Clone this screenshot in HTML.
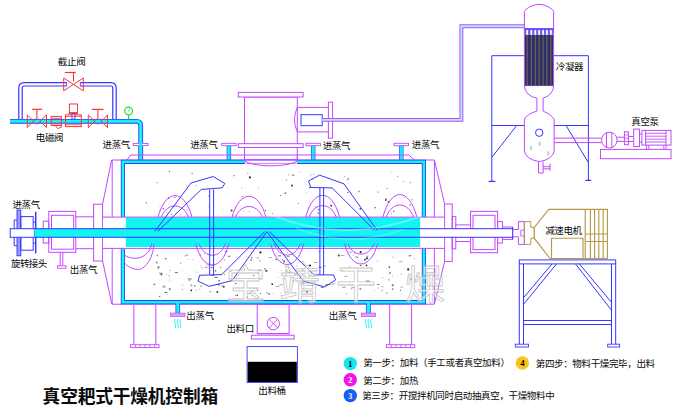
<!DOCTYPE html>
<html lang="zh">
<head>
<meta charset="utf-8">
<title>真空耙式干燥机控制箱</title>
<style>
html,body{margin:0;padding:0;background:#fff;}
body{width:676px;height:419px;overflow:hidden;font-family:"Liberation Sans",sans-serif;}
svg{display:block;}
</style>
</head>
<body>
<svg width="676" height="419" viewBox="0 0 676 419" role="img" aria-label="真空耙式干燥机控制箱"><g id="steam-supply">
<path d="M20.5 119V88Q20.5 84.3 24.2 84.3H110.8Q114.5 84.3 114.5 88V119" stroke="#3636ff" stroke-width="4.60" fill="none"/>
<path d="M20.5 119V88Q20.5 84.3 24.2 84.3H110.8Q114.5 84.3 114.5 88V119" stroke="#fff" stroke-width="2.20" fill="none"/>
<path d="M10 121.3H136.5Q140.7 121.3 140.7 125.5V161" stroke="#3636ff" stroke-width="4.80" fill="none"/>
<path d="M10 121.3H136.5Q140.7 121.3 140.7 125.5V161" stroke="#12f4f1" stroke-width="3.10" fill="none"/>
<rect x="66.5" y="81.0" width="13.9" height="6.6" stroke="none" stroke-width="0.00" fill="#fff"/>
<path d="M63.7 78.0L63.7 90.8L73.5 84.4Z" stroke="#ff3434" stroke-width="1.00" fill="none"/>
<path d="M83.3 78.0L83.3 90.8L73.5 84.4Z" stroke="#ff3434" stroke-width="1.00" fill="none"/>
<path d="M73.5 81.6L73.5 72.5" stroke="#ff3434" stroke-width="1.10" fill="none"/>
<path d="M64.7 72.5L75.8 72.5" stroke="#ff3434" stroke-width="1.20" fill="none"/>
<path d="M66.5 82.2V86.4M80.4 82.2V86.4" stroke="#3636ff" stroke-width="0.80" fill="none"/>
<path d="M27.3 114.9L27.3 127.5L33.7 121.2Z" stroke="#ff3434" stroke-width="1.00" fill="none"/>
<path d="M46.5 114.9L46.5 127.5L40.1 121.2Z" stroke="#ff3434" stroke-width="1.00" fill="none"/>
<circle cx="36.9" cy="121.2" r="2.9" stroke="#ff3434" stroke-width="0.80" fill="none" stroke-dasharray="1.6 1.4"/>
<path d="M36.9 118.4L36.9 109.3" stroke="#ff3434" stroke-width="1.10" fill="none"/>
<path d="M32.1 109.3L42.2 109.3" stroke="#ff3434" stroke-width="1.20" fill="none"/>
<path d="M88.3 115.0L88.3 127.6L94.7 121.3Z" stroke="#ff3434" stroke-width="1.00" fill="none"/>
<path d="M107.5 115.0L107.5 127.6L101.1 121.3Z" stroke="#ff3434" stroke-width="1.00" fill="none"/>
<circle cx="97.9" cy="121.3" r="2.9" stroke="#ff3434" stroke-width="0.80" fill="none" stroke-dasharray="1.6 1.4"/>
<path d="M97.9 118.5L97.9 109.4" stroke="#ff3434" stroke-width="1.10" fill="none"/>
<path d="M91.7 109.4L103.5 109.4" stroke="#ff3434" stroke-width="1.20" fill="none"/>
<rect x="51.2" y="116.4" width="10.2" height="9.1" stroke="#ff3434" stroke-width="1.00" fill="none"/>
<path d="M51.2 118.3L61.4 118.3" stroke="#ff3434" stroke-width="0.90" fill="none"/>
<path d="M51.2 123.9L61.4 123.9" stroke="#ff3434" stroke-width="0.90" fill="none"/>
<path d="M55.3 125.5L57.6 128.6L61.4 127.2L61.4 125.5" stroke="#ff3434" stroke-width="0.90" fill="none"/>
<rect x="65.5" y="114.9" width="15.8" height="11.7" stroke="#ff3434" stroke-width="1.00" fill="none"/>
<rect x="69.4" y="104.0" width="8.1" height="8.6" stroke="#ff3434" stroke-width="1.00" fill="none"/>
<path d="M68.4 113.6L78.2 113.6" stroke="#ff3434" stroke-width="1.00" fill="none"/>
<rect x="72.0" y="114.0" width="2.9" height="5.3" stroke="#3636ff" stroke-width="0.90" fill="#fff"/>
<path d="M65.5 116.4L81.3 116.4" stroke="#ff3434" stroke-width="0.80" fill="none"/>
<path d="M65.5 124.7L81.3 124.7" stroke="#ff3434" stroke-width="0.80" fill="none"/>
<path d="M128.6 115.0L128.6 119.2" stroke="#2fdc2f" stroke-width="1.20" fill="none"/>
<circle cx="128.6" cy="111.0" r="3.9" stroke="#2fdc2f" stroke-width="1.20" fill="#fff"/>
<path d="M128.6 111.6L129.8 108.6" stroke="#2fdc2f" stroke-width="0.90" fill="none"/>
<rect x="133.3" y="143.4" width="14.7" height="2.2" stroke="#c247ff" stroke-width="0.90" fill="#fff"/>
<path d="M140.7 142.5V146.5" stroke="#12f4f1" stroke-width="3.10" fill="none"/>
</g>
<g id="steam-inlets">
<path d="M228.9 145.5L228.9 161.0" stroke="#3636ff" stroke-width="4.40" fill="none"/>
<path d="M228.9 145.5L228.9 161.5" stroke="#12f4f1" stroke-width="3.20" fill="none"/>
<rect x="221.7" y="143.3" width="14.4" height="2.4" stroke="#c247ff" stroke-width="0.90" fill="#fff"/>
<path d="M313.2 145.5L313.2 161.0" stroke="#3636ff" stroke-width="4.40" fill="none"/>
<path d="M313.2 145.5L313.2 161.5" stroke="#12f4f1" stroke-width="3.20" fill="none"/>
<rect x="306.0" y="143.3" width="14.4" height="2.4" stroke="#c247ff" stroke-width="0.90" fill="#fff"/>
<path d="M401.3 145.5L401.3 161.0" stroke="#3636ff" stroke-width="4.40" fill="none"/>
<path d="M401.3 145.5L401.3 161.5" stroke="#12f4f1" stroke-width="3.20" fill="none"/>
<rect x="394.1" y="143.3" width="14.4" height="2.4" stroke="#c247ff" stroke-width="0.90" fill="#fff"/>
</g>
<g id="feeder">
<rect x="244.5" y="97.0" width="52.8" height="63.0" stroke="#c247ff" stroke-width="1.00" fill="#fff"/>
<rect x="238.3" y="92.4" width="64.8" height="4.6" stroke="#c247ff" stroke-width="1.00" fill="#fff"/>
<rect x="238.3" y="143.7" width="64.8" height="3.8" stroke="#c247ff" stroke-width="1.00" fill="#fff"/>
<path d="M297.3 107.4H328.4M297.3 131.9H328.4" stroke="#c247ff" stroke-width="1.00" fill="none"/>
<path d="M297.3 107.4Q291.6 119.6 297.3 131.9" stroke="#c247ff" stroke-width="1.00" fill="none"/>
<rect x="328.4" y="102.2" width="4.2" height="35.9" stroke="#c247ff" stroke-width="1.00" fill="#fff"/>
<rect x="301.0" y="114.7" width="21.2" height="11.0" stroke="#3636ff" stroke-width="1.00" fill="#fff"/>
<path d="M322.2 119.9H461.4V26.3H527" stroke="#c247ff" stroke-width="3.90" fill="none"/>
<path d="M322.2 119.9H461.4V26.3H527" stroke="#a4f3fa" stroke-width="1.90" fill="none"/>
</g>
<g id="vessel">
<path d="M127 160L130.5 155H409L414.3 160" stroke="#c247ff" stroke-width="1.00" fill="none"/>
<path d="M111.6 160.0L434.4 160.0" stroke="#c247ff" stroke-width="1.00" fill="none"/>
<path d="M111.8 304.2L434.4 304.2" stroke="#c247ff" stroke-width="1.00" fill="none"/>
<path d="M112.2 160V304M434.4 160V304" stroke="#c247ff" stroke-width="1.00" fill="none"/>
<path d="M111.6 160L102.6 204.2M102.6 261L111.8 304" stroke="#c247ff" stroke-width="1.00" fill="none"/>
<path d="M434.4 160L444.6 204M444.6 261.6L434.4 304" stroke="#c247ff" stroke-width="1.00" fill="none"/>
<path d="M122.9 161.8H423.9V302.2H122.9Z" stroke="#3636ff" stroke-width="4.20" fill="#fff"/>
<path d="M122.9 161.8H423.9V302.2H122.9Z" stroke="#12f4f1" stroke-width="2.60" fill="none"/>
<rect x="245.0" y="160.5" width="51.8" height="4.1" stroke="none" stroke-width="0.00" fill="#fff"/>
<path d="M244.5 155V161.2M297.3 155V161.2" stroke="#c247ff" stroke-width="1.00" fill="none"/>
<path d="M244.5 160.0L297.3 160.0" stroke="#c247ff" stroke-width="1.00" fill="none"/>
<path d="M244.5 161.2C256 167.4 286 167.4 297.3 161.2" stroke="#c247ff" stroke-width="1.00" fill="none"/>
<path d="M246.0 163.4L295.8 163.4" stroke="#c247ff" stroke-width="0.70" fill="none"/>
<rect x="93.6" y="204.2" width="9.0" height="56.8" stroke="#c247ff" stroke-width="1.00" fill="#fff"/>
<rect x="444.6" y="204.0" width="7.6" height="57.6" stroke="#c247ff" stroke-width="1.00" fill="#fff"/>
</g>
<g id="supports">
<path d="M133.9 304.5V344.7M155.8 304.5V344.7" stroke="#c247ff" stroke-width="1.00" fill="none"/>
<rect x="130.6" y="344.7" width="28.4" height="2.9" stroke="#c247ff" stroke-width="0.90" fill="#fff"/>
<path d="M135.4 344.7V347.6M140.2 344.7V347.6M145 344.7V347.6M149.8 344.7V347.6M154.6 344.7V347.6" stroke="#c247ff" stroke-width="0.80" fill="none"/>
<path d="M389.7 304.5V344.7M411.6 304.5V344.7" stroke="#c247ff" stroke-width="1.00" fill="none"/>
<rect x="386.4" y="344.7" width="28.4" height="2.9" stroke="#c247ff" stroke-width="0.90" fill="#fff"/>
<path d="M391.2 344.7V347.6M396 344.7V347.6M400.8 344.7V347.6M405.6 344.7V347.6M410.4 344.7V347.6" stroke="#c247ff" stroke-width="0.80" fill="none"/>
<path d="M177.8 303.5L177.8 313.0" stroke="#3636ff" stroke-width="4.60" fill="none"/>
<path d="M177.8 302.5L177.8 313.0" stroke="#12f4f1" stroke-width="3.10" fill="none"/>
<rect x="170.6" y="313.1" width="14.4" height="3.3" stroke="#c247ff" stroke-width="0.70" fill="#dca0ff"/>
<path d="M175.2 319q-1.2 2.3 0 4.6t0 4.6" stroke="#12f4f1" stroke-width="0.90" fill="none"/>
<path d="M177.8 319q-1.2 2.3 0 4.6t0 4.6" stroke="#12f4f1" stroke-width="0.90" fill="none"/>
<path d="M180.4 319q-1.2 2.3 0 4.6t0 4.6" stroke="#12f4f1" stroke-width="0.90" fill="none"/>
<path d="M368.5 303.5L368.5 313.0" stroke="#3636ff" stroke-width="4.60" fill="none"/>
<path d="M368.5 302.5L368.5 313.0" stroke="#12f4f1" stroke-width="3.10" fill="none"/>
<rect x="361.3" y="313.1" width="14.4" height="3.3" stroke="#c247ff" stroke-width="0.70" fill="#dca0ff"/>
<path d="M365.9 319q-1.2 2.3 0 4.6t0 4.6" stroke="#12f4f1" stroke-width="0.90" fill="none"/>
<path d="M368.5 319q-1.2 2.3 0 4.6t0 4.6" stroke="#12f4f1" stroke-width="0.90" fill="none"/>
<path d="M371.1 319q-1.2 2.3 0 4.6t0 4.6" stroke="#12f4f1" stroke-width="0.90" fill="none"/>
<rect x="257.2" y="304.5" width="31.9" height="29.1" stroke="#c247ff" stroke-width="1.00" fill="#fff"/>
<rect x="251.4" y="335.2" width="42.7" height="3.8" stroke="#c247ff" stroke-width="1.00" fill="#fff"/>
<path d="M257.2 333.6L289.1 333.6" stroke="#c247ff" stroke-width="1.00" fill="none"/>
<circle cx="273.3" cy="323.6" r="6.2" stroke="#c247ff" stroke-width="1.00" fill="none"/>
<path d="M268.9 319.2L277.7 328M277.7 319.2L268.9 328" stroke="#c247ff" stroke-width="0.90" fill="none"/>
<rect x="247.1" y="346.6" width="50.3" height="35.9" stroke="#3636ff" stroke-width="0.90" fill="#fff"/>
<rect x="247.7" y="361.8" width="49.1" height="20.2" stroke="none" stroke-width="0.00" fill="#000"/>
</g>
<g id="left-end">
<rect x="17.0" y="210.0" width="3.8" height="45.8" stroke="#3636ff" stroke-width="0.90" fill="#9a9aff"/>
<rect x="20.8" y="216.6" width="12.4" height="33.6" stroke="#3636ff" stroke-width="1.00" fill="none"/>
<path d="M35.7 211.8V253.4" stroke="#3636ff" stroke-width="1.50" fill="none"/>
<path d="M33.2 222.2H35.7M33.2 243.2H35.7" stroke="#3636ff" stroke-width="0.90" fill="none"/>
<path d="M17 220H14.2V245.7H17" stroke="#3636ff" stroke-width="1.00" fill="none"/>
<rect x="43.2" y="221.2" width="5.6" height="21.8" stroke="#c247ff" stroke-width="1.00" fill="none"/>
<rect x="48.8" y="211.4" width="27.0" height="40.9" stroke="#c247ff" stroke-width="1.00" fill="none"/>
<rect x="51.5" y="215.3" width="22.2" height="33.9" stroke="#c247ff" stroke-width="1.00" fill="none"/>
<path d="M60.2 252.3V265.8M62.8 252.3V265.8" stroke="#c247ff" stroke-width="1.00" fill="none"/>
<rect x="57.5" y="265.8" width="8.5" height="2.4" stroke="#c247ff" stroke-width="0.90" fill="#fff"/>
<path d="M75.8 216.8H93.6M75.8 248.7H93.6" stroke="#c247ff" stroke-width="1.00" fill="none"/>
</g>
<g id="right-end">
<rect x="452.2" y="216.6" width="3.6" height="32.2" stroke="#c247ff" stroke-width="1.00" fill="none"/>
<path d="M455.8 224.9H470.6M455.8 241.5H470.6" stroke="#c247ff" stroke-width="1.00" fill="none"/>
<rect x="470.6" y="211.4" width="27.0" height="41.3" stroke="#c247ff" stroke-width="1.00" fill="none"/>
<rect x="473.0" y="215.3" width="22.0" height="34.3" stroke="#c247ff" stroke-width="1.00" fill="none"/>
<rect x="497.6" y="221.6" width="4.8" height="21.4" stroke="#c247ff" stroke-width="1.00" fill="none"/>
<path d="M502.4 227H512.8V239.4H502.4" stroke="#c247ff" stroke-width="1.00" fill="none"/>
<path d="M512.8 229.5H518.4V221.6H524.3V244.4H518.4V236.8H512.8" stroke="#c247ff" stroke-width="1.00" fill="none"/>
<path d="M524.3 230.2H520.8V236H524.3" stroke="#c247ff" stroke-width="0.90" fill="none"/>
<path d="M524.3 221.6H530.8V227.4H534.3V238.2H530.8V244.4H524.3Z" stroke="#b8994a" stroke-width="1.00" fill="none"/>
</g>
<g id="gearmotor">
<path d="M548.8 209.3H607.4V258.5H549.9L534.3 238.2V227.4Z" stroke="#b8994a" stroke-width="1.15" fill="#fff"/>
<path d="M585.2 209.3V258.5M590.4 209.3V258.5M594.6 209.3V258.5M598.8 209.3V258.5M603.2 209.3V258.5" stroke="#b8994a" stroke-width="1.15" fill="none"/>
<path d="M585.2 234H607.4M585.2 241.5H607.4" stroke="#b8994a" stroke-width="1.15" fill="none"/>
<path d="M551.5 258.5V238.2H583V258.5" stroke="#b8994a" stroke-width="1.15" fill="none"/>
</g>
<g id="stand">
<rect x="519.3" y="259.9" width="96.4" height="4.0" stroke="#3636ff" stroke-width="1.00" fill="#fff"/>
<path d="M519.3 263.9V344.2M523.5 263.9V344.2M611.5 263.9V344.2M615.7 263.9V344.2" stroke="#3636ff" stroke-width="1.00" fill="none"/>
<path d="M523.5 320.5H611.5M523.5 324.5H611.5" stroke="#3636ff" stroke-width="1.00" fill="none"/>
<path d="M552 263.9L523.5 297.8M556.5 263.9L523.5 304.4" stroke="#3636ff" stroke-width="1.00" fill="none"/>
<path d="M575.5 263.9L611.4 310.1M579.4 263.9L611.4 302.3" stroke="#3636ff" stroke-width="1.00" fill="none"/>
<rect x="515.3" y="344.2" width="13.2" height="2.8" stroke="#3636ff" stroke-width="0.90" fill="#fff"/>
<rect x="607.7" y="344.2" width="11.9" height="2.8" stroke="#3636ff" stroke-width="0.90" fill="#fff"/>
</g>
<g id="chamber">
<g fill="#202020"><circle cx="260.4" cy="293.5" r="0.60" opacity="0.80"/><circle cx="276.2" cy="259.5" r="0.70" opacity="0.80"/><circle cx="311.1" cy="175.1" r="0.50" opacity="0.50"/><circle cx="411.9" cy="199.8" r="0.70" opacity="0.50"/><circle cx="309.2" cy="173.8" r="0.40" opacity="0.50"/><circle cx="382.6" cy="286.8" r="0.50" opacity="0.80"/><circle cx="300.0" cy="261.7" r="0.50" opacity="0.80"/><circle cx="288.7" cy="174.7" r="0.50" opacity="0.65"/><circle cx="347.8" cy="252.4" r="0.70" opacity="0.35"/><circle cx="245.5" cy="188.0" r="0.40" opacity="0.35"/><circle cx="192.1" cy="173.3" r="0.60" opacity="0.80"/><circle cx="251.1" cy="260.1" r="0.85" opacity="0.65"/><circle cx="227.4" cy="251.7" r="0.60" opacity="0.35"/><circle cx="169.5" cy="171.5" r="0.60" opacity="0.80"/><circle cx="181.8" cy="271.6" r="0.45" opacity="0.50"/><circle cx="250.9" cy="269.2" r="0.45" opacity="0.35"/><circle cx="208.2" cy="206.4" r="0.50" opacity="0.35"/><circle cx="191.3" cy="290.3" r="0.85" opacity="1.00"/><circle cx="352.0" cy="264.6" r="0.40" opacity="0.35"/><circle cx="156.8" cy="262.2" r="0.70" opacity="0.65"/><circle cx="237.3" cy="295.1" r="0.60" opacity="1.00"/><circle cx="169.8" cy="279.9" r="0.50" opacity="0.50"/><circle cx="364.9" cy="259.7" r="0.85" opacity="1.00"/><circle cx="187.2" cy="209.8" r="0.70" opacity="0.35"/><circle cx="251.5" cy="252.8" r="0.50" opacity="0.50"/><circle cx="342.6" cy="270.4" r="0.70" opacity="0.80"/><circle cx="214.9" cy="284.1" r="0.40" opacity="0.50"/><circle cx="196.3" cy="290.2" r="0.70" opacity="0.35"/><circle cx="211.1" cy="180.0" r="0.40" opacity="0.35"/><circle cx="208.0" cy="253.8" r="0.45" opacity="0.65"/><circle cx="236.5" cy="257.1" r="0.50" opacity="0.50"/><circle cx="385.8" cy="199.9" r="0.85" opacity="1.00"/><circle cx="298.1" cy="252.6" r="0.40" opacity="0.80"/><circle cx="391.3" cy="213.4" r="0.40" opacity="1.00"/><circle cx="312.9" cy="284.6" r="0.50" opacity="0.50"/><circle cx="416.8" cy="276.1" r="0.85" opacity="0.35"/><circle cx="388.5" cy="202.0" r="1.05" opacity="0.65"/><circle cx="231.6" cy="210.6" r="1.05" opacity="0.80"/><circle cx="401.1" cy="274.0" r="0.40" opacity="1.00"/><circle cx="320.4" cy="251.6" r="0.40" opacity="0.35"/><circle cx="156.9" cy="262.8" r="0.60" opacity="0.65"/><circle cx="242.1" cy="196.6" r="0.60" opacity="0.80"/><circle cx="370.8" cy="285.5" r="0.40" opacity="0.65"/><circle cx="303.0" cy="261.6" r="0.85" opacity="0.35"/><circle cx="273.2" cy="293.3" r="0.50" opacity="0.35"/><circle cx="236.2" cy="279.1" r="0.70" opacity="0.50"/><circle cx="346.6" cy="293.8" r="0.60" opacity="0.50"/><circle cx="224.5" cy="260.1" r="0.60" opacity="0.50"/><circle cx="382.8" cy="277.8" r="0.50" opacity="0.50"/><circle cx="169.9" cy="289.5" r="1.05" opacity="0.35"/><circle cx="334.4" cy="183.2" r="0.45" opacity="0.35"/><circle cx="259.9" cy="260.8" r="0.60" opacity="0.80"/><circle cx="310.0" cy="265.5" r="1.05" opacity="1.00"/><circle cx="260.4" cy="252.4" r="1.05" opacity="1.00"/><circle cx="357.4" cy="257.3" r="0.60" opacity="0.50"/><circle cx="318.3" cy="213.2" r="0.85" opacity="0.50"/><circle cx="188.0" cy="259.2" r="0.40" opacity="0.80"/><circle cx="284.0" cy="261.4" r="1.05" opacity="0.65"/><circle cx="285.4" cy="193.0" r="1.05" opacity="0.50"/><circle cx="243.5" cy="210.9" r="0.40" opacity="0.80"/><circle cx="397.7" cy="176.7" r="0.60" opacity="0.50"/><circle cx="309.9" cy="187.6" r="0.70" opacity="1.00"/><circle cx="358.9" cy="191.4" r="0.85" opacity="0.50"/><circle cx="159.3" cy="206.1" r="0.40" opacity="0.50"/><circle cx="200.3" cy="255.0" r="0.50" opacity="1.00"/><circle cx="410.4" cy="182.5" r="0.85" opacity="0.35"/><circle cx="230.7" cy="271.3" r="0.70" opacity="0.80"/><circle cx="350.7" cy="252.3" r="1.05" opacity="0.35"/><circle cx="253.7" cy="275.5" r="0.85" opacity="0.50"/><circle cx="265.6" cy="210.6" r="0.70" opacity="0.80"/><circle cx="401.5" cy="294.7" r="0.40" opacity="0.50"/><circle cx="256.7" cy="289.2" r="0.70" opacity="0.50"/><circle cx="280.5" cy="195.6" r="0.50" opacity="0.80"/><circle cx="404.1" cy="197.8" r="0.50" opacity="0.50"/><circle cx="408.0" cy="277.4" r="0.45" opacity="0.80"/><circle cx="284.3" cy="278.8" r="0.40" opacity="1.00"/><circle cx="408.2" cy="269.4" r="1.05" opacity="1.00"/><circle cx="165.9" cy="258.7" r="0.70" opacity="0.80"/><circle cx="249.3" cy="211.6" r="0.50" opacity="0.50"/><circle cx="266.3" cy="270.9" r="1.05" opacity="0.80"/><circle cx="281.1" cy="270.3" r="0.40" opacity="0.65"/><circle cx="168.0" cy="172.0" r="0.45" opacity="0.50"/><circle cx="196.0" cy="185.2" r="0.50" opacity="0.50"/><circle cx="308.3" cy="284.6" r="0.40" opacity="1.00"/><circle cx="309.3" cy="201.9" r="0.60" opacity="0.35"/><circle cx="238.5" cy="275.3" r="0.45" opacity="1.00"/><circle cx="189.4" cy="280.4" r="0.70" opacity="0.50"/><circle cx="374.5" cy="290.4" r="0.45" opacity="0.65"/><circle cx="389.2" cy="265.5" r="0.45" opacity="0.50"/><circle cx="353.6" cy="255.5" r="0.45" opacity="0.50"/><circle cx="338.8" cy="255.5" r="1.05" opacity="0.80"/><circle cx="286.4" cy="179.8" r="0.85" opacity="0.35"/><circle cx="158.5" cy="267.4" r="1.05" opacity="0.65"/><circle cx="164.0" cy="285.9" r="0.70" opacity="0.50"/><circle cx="360.6" cy="252.1" r="1.05" opacity="1.00"/><circle cx="306.4" cy="192.2" r="0.45" opacity="0.50"/><circle cx="163.9" cy="258.3" r="0.50" opacity="0.35"/><circle cx="296.8" cy="282.3" r="0.40" opacity="0.35"/><circle cx="224.5" cy="274.7" r="0.60" opacity="0.50"/><circle cx="302.9" cy="283.2" r="1.05" opacity="0.50"/><circle cx="182.8" cy="285.0" r="0.60" opacity="0.50"/><circle cx="304.0" cy="287.4" r="0.50" opacity="0.35"/><circle cx="360.3" cy="208.9" r="0.85" opacity="0.80"/><circle cx="293.9" cy="277.9" r="0.50" opacity="0.65"/><circle cx="210.9" cy="285.2" r="0.45" opacity="0.80"/><circle cx="169.1" cy="275.8" r="0.50" opacity="0.80"/><circle cx="349.9" cy="284.2" r="0.40" opacity="0.65"/><circle cx="217.3" cy="291.9" r="0.85" opacity="1.00"/><circle cx="192.8" cy="259.4" r="0.40" opacity="0.80"/><circle cx="278.2" cy="260.8" r="0.40" opacity="0.80"/><circle cx="411.3" cy="279.3" r="0.85" opacity="0.50"/><circle cx="204.4" cy="253.3" r="0.45" opacity="0.80"/><circle cx="285.6" cy="275.0" r="1.05" opacity="0.35"/><circle cx="313.5" cy="174.4" r="0.70" opacity="0.35"/><circle cx="241.5" cy="188.0" r="0.45" opacity="0.80"/><circle cx="286.0" cy="270.8" r="0.60" opacity="0.80"/><circle cx="212.3" cy="265.4" r="0.70" opacity="0.65"/><circle cx="269.2" cy="293.8" r="0.85" opacity="0.65"/><circle cx="247.9" cy="173.3" r="0.50" opacity="0.80"/><circle cx="390.0" cy="273.0" r="1.05" opacity="0.50"/><circle cx="144.0" cy="288.3" r="0.45" opacity="0.50"/><circle cx="303.6" cy="279.7" r="0.60" opacity="0.35"/><circle cx="189.2" cy="275.3" r="0.40" opacity="0.65"/><circle cx="257.7" cy="272.0" r="0.50" opacity="1.00"/><circle cx="326.1" cy="285.2" r="1.05" opacity="0.50"/><circle cx="403.5" cy="181.5" r="0.40" opacity="1.00"/><circle cx="386.3" cy="198.5" r="0.50" opacity="0.65"/><circle cx="208.7" cy="195.9" r="0.70" opacity="0.50"/><circle cx="312.1" cy="179.4" r="0.45" opacity="1.00"/><circle cx="411.2" cy="209.7" r="0.40" opacity="0.35"/><circle cx="194.7" cy="285.8" r="0.85" opacity="0.50"/><circle cx="288.5" cy="268.2" r="0.60" opacity="0.65"/><circle cx="191.2" cy="285.3" r="1.05" opacity="0.35"/><circle cx="360.4" cy="288.8" r="1.05" opacity="0.50"/><circle cx="258.1" cy="188.2" r="0.45" opacity="0.65"/><circle cx="174.9" cy="197.3" r="0.50" opacity="1.00"/><circle cx="348.1" cy="179.1" r="0.85" opacity="0.65"/><circle cx="297.0" cy="265.9" r="0.70" opacity="0.35"/><circle cx="254.5" cy="288.5" r="0.60" opacity="0.65"/><circle cx="366.5" cy="265.3" r="0.85" opacity="1.00"/><circle cx="154.4" cy="284.3" r="0.85" opacity="0.65"/><circle cx="211.9" cy="267.5" r="0.85" opacity="0.65"/><circle cx="235.8" cy="283.6" r="0.70" opacity="1.00"/><circle cx="393.7" cy="211.2" r="0.60" opacity="1.00"/><circle cx="360.7" cy="265.6" r="0.60" opacity="1.00"/><circle cx="202.0" cy="267.8" r="0.50" opacity="0.80"/><circle cx="298.3" cy="203.5" r="0.50" opacity="0.80"/><circle cx="285.6" cy="195.8" r="0.45" opacity="0.35"/><circle cx="348.1" cy="183.4" r="0.40" opacity="0.50"/><circle cx="278.5" cy="277.1" r="0.40" opacity="0.80"/><circle cx="312.4" cy="285.3" r="0.85" opacity="0.80"/><circle cx="201.2" cy="286.2" r="0.70" opacity="0.65"/><circle cx="349.7" cy="266.5" r="0.50" opacity="0.50"/><circle cx="272.2" cy="284.2" r="0.85" opacity="1.00"/><circle cx="392.7" cy="289.0" r="0.85" opacity="0.65"/><circle cx="375.1" cy="207.7" r="0.60" opacity="1.00"/><circle cx="314.1" cy="283.7" r="1.05" opacity="0.35"/><circle cx="251.6" cy="257.7" r="0.85" opacity="0.50"/><circle cx="414.4" cy="258.7" r="0.45" opacity="0.80"/><circle cx="252.5" cy="295.6" r="0.40" opacity="0.80"/><circle cx="219.2" cy="280.8" r="1.05" opacity="0.50"/><circle cx="391.9" cy="171.8" r="0.60" opacity="0.35"/><circle cx="220.4" cy="267.5" r="0.70" opacity="0.50"/><circle cx="302.6" cy="274.4" r="0.60" opacity="0.50"/><circle cx="386.8" cy="292.9" r="0.50" opacity="1.00"/><circle cx="400.4" cy="290.3" r="0.60" opacity="0.80"/><circle cx="392.5" cy="276.2" r="0.40" opacity="0.80"/><circle cx="377.7" cy="261.0" r="0.45" opacity="0.80"/><circle cx="410.1" cy="205.1" r="1.05" opacity="0.35"/><circle cx="319.1" cy="251.5" r="0.60" opacity="0.65"/><circle cx="259.7" cy="270.4" r="1.05" opacity="0.50"/><circle cx="249.9" cy="177.4" r="1.05" opacity="1.00"/><circle cx="168.5" cy="198.3" r="0.70" opacity="1.00"/><circle cx="393.0" cy="256.9" r="0.50" opacity="0.65"/><circle cx="306.9" cy="291.9" r="0.85" opacity="0.80"/><circle cx="354.5" cy="252.7" r="0.60" opacity="1.00"/><circle cx="272.3" cy="213.4" r="0.50" opacity="0.65"/><circle cx="247.0" cy="296.9" r="0.85" opacity="0.35"/><circle cx="233.9" cy="175.7" r="0.60" opacity="0.80"/><circle cx="344.5" cy="176.4" r="0.60" opacity="0.35"/><circle cx="378.0" cy="191.9" r="0.50" opacity="1.00"/><circle cx="163.4" cy="208.7" r="0.85" opacity="0.50"/><circle cx="388.8" cy="279.9" r="0.70" opacity="0.65"/><circle cx="403.9" cy="195.4" r="0.40" opacity="0.65"/><circle cx="185.0" cy="256.0" r="0.50" opacity="0.65"/><circle cx="292.0" cy="185.6" r="1.05" opacity="0.80"/><circle cx="157.4" cy="255.3" r="0.85" opacity="0.50"/><circle cx="182.4" cy="289.5" r="0.70" opacity="0.35"/><circle cx="159.7" cy="296.4" r="0.60" opacity="0.80"/><circle cx="351.6" cy="288.9" r="0.70" opacity="0.50"/><circle cx="316.1" cy="207.1" r="0.60" opacity="0.80"/><circle cx="225.8" cy="251.7" r="0.60" opacity="1.00"/><circle cx="331.2" cy="205.7" r="0.85" opacity="1.00"/><circle cx="282.5" cy="259.7" r="0.50" opacity="0.80"/><circle cx="161.4" cy="274.4" r="1.05" opacity="0.65"/><circle cx="367.0" cy="258.3" r="1.05" opacity="1.00"/><circle cx="389.3" cy="267.2" r="0.70" opacity="1.00"/><circle cx="171.5" cy="214.4" r="0.70" opacity="0.50"/><circle cx="293.3" cy="281.3" r="1.05" opacity="0.35"/><circle cx="170.0" cy="270.2" r="0.50" opacity="0.65"/><circle cx="157.2" cy="182.7" r="0.60" opacity="0.50"/><circle cx="199.2" cy="276.1" r="0.40" opacity="1.00"/><circle cx="392.7" cy="285.3" r="1.05" opacity="0.65"/><circle cx="303.0" cy="288.9" r="0.50" opacity="0.65"/><circle cx="199.9" cy="289.2" r="0.45" opacity="1.00"/><circle cx="287.7" cy="252.5" r="0.45" opacity="0.50"/><circle cx="219.0" cy="284.9" r="0.60" opacity="1.00"/><circle cx="300.3" cy="171.7" r="0.45" opacity="0.80"/><circle cx="264.9" cy="268.8" r="0.70" opacity="0.80"/><circle cx="180.7" cy="263.1" r="0.70" opacity="0.65"/><circle cx="146.3" cy="202.8" r="0.60" opacity="0.80"/><circle cx="302.6" cy="269.9" r="0.70" opacity="1.00"/><circle cx="347.8" cy="192.4" r="0.60" opacity="0.80"/><circle cx="367.0" cy="256.3" r="0.70" opacity="0.65"/><circle cx="281.2" cy="292.6" r="0.50" opacity="0.35"/><circle cx="215.7" cy="270.9" r="0.60" opacity="1.00"/><circle cx="223.1" cy="209.8" r="0.40" opacity="0.50"/><circle cx="166.6" cy="274.1" r="0.60" opacity="0.35"/><circle cx="267.1" cy="292.9" r="0.70" opacity="0.65"/><circle cx="318.9" cy="209.7" r="0.85" opacity="0.65"/><circle cx="378.8" cy="288.0" r="0.45" opacity="0.80"/><circle cx="293.1" cy="175.3" r="1.05" opacity="0.50"/><circle cx="166.4" cy="294.7" r="0.40" opacity="0.65"/><circle cx="200.8" cy="265.9" r="0.40" opacity="0.80"/><circle cx="387.0" cy="188.5" r="0.50" opacity="1.00"/><circle cx="197.0" cy="271.9" r="0.50" opacity="0.65"/><circle cx="223.8" cy="286.7" r="1.05" opacity="0.80"/><circle cx="382.3" cy="290.5" r="0.85" opacity="0.35"/><circle cx="186.9" cy="186.6" r="0.60" opacity="0.35"/><circle cx="180.2" cy="214.8" r="0.45" opacity="1.00"/><rect x="313.8" y="262.0" width="3.6" height="0.8" opacity="0.45"/><rect x="318.6" y="266.9" width="3.4" height="0.8" opacity="0.60"/><rect x="377.2" y="284.0" width="2.1" height="0.8" opacity="0.80"/><rect x="400.5" y="286.7" width="2.6" height="0.8" opacity="0.45"/><rect x="204.6" y="266.9" width="3.2" height="0.8" opacity="0.45"/><rect x="216.8" y="284.2" width="2.8" height="0.8" opacity="0.60"/><rect x="356.1" y="269.6" width="3.1" height="0.8" opacity="0.45"/><rect x="302.5" y="263.6" width="2.4" height="0.8" opacity="0.45"/><rect x="323.1" y="265.6" width="3.1" height="0.8" opacity="0.45"/><rect x="268.5" y="257.2" width="3.6" height="0.8" opacity="0.45"/><rect x="286.7" y="255.9" width="3.0" height="0.8" opacity="0.60"/><rect x="288.4" y="271.8" width="2.9" height="0.8" opacity="0.45"/><rect x="221.1" y="285.7" width="2.3" height="0.8" opacity="0.60"/><rect x="341.0" y="255.2" width="3.4" height="0.8" opacity="0.45"/><rect x="408.7" y="255.4" width="2.7" height="0.8" opacity="0.80"/><rect x="247.7" y="293.0" width="2.8" height="0.8" opacity="0.45"/><rect x="162.1" y="286.6" width="3.6" height="0.8" opacity="0.60"/><rect x="320.8" y="286.9" width="2.8" height="0.8" opacity="0.80"/><rect x="365.8" y="280.7" width="3.8" height="0.8" opacity="0.80"/><rect x="399.1" y="261.3" width="3.4" height="0.8" opacity="0.45"/><rect x="174.9" y="272.3" width="3.1" height="0.8" opacity="0.80"/><rect x="351.4" y="287.0" width="3.4" height="0.8" opacity="0.45"/><rect x="214.3" y="276.9" width="3.5" height="0.8" opacity="0.80"/><rect x="278.2" y="255.5" width="3.0" height="0.8" opacity="0.80"/><rect x="159.0" y="272.8" width="3.6" height="0.8" opacity="0.60"/><rect x="185.5" y="254.7" width="2.8" height="0.8" opacity="0.60"/><rect x="279.5" y="284.4" width="3.5" height="0.8" opacity="0.45"/><rect x="164.4" y="292.1" width="2.9" height="0.8" opacity="0.80"/><rect x="299.7" y="284.3" width="3.0" height="0.8" opacity="0.45"/><rect x="228.0" y="255.8" width="2.4" height="0.8" opacity="0.80"/><rect x="342.2" y="286.8" width="3.3" height="0.8" opacity="0.60"/><rect x="168.6" y="288.5" width="2.1" height="0.8" opacity="0.60"/><rect x="211.3" y="274.9" width="3.1" height="0.8" opacity="0.80"/><rect x="355.1" y="256.6" width="2.6" height="0.8" opacity="0.60"/><rect x="331.5" y="283.6" width="3.7" height="0.8" opacity="0.45"/><rect x="275.7" y="286.0" width="3.8" height="0.8" opacity="0.45"/><rect x="343.8" y="275.9" width="3.8" height="0.8" opacity="0.45"/><rect x="209.2" y="291.4" width="2.1" height="0.8" opacity="0.60"/><rect x="293.5" y="273.8" width="3.7" height="0.8" opacity="0.45"/><rect x="326.5" y="284.1" width="3.8" height="0.8" opacity="0.80"/><rect x="206.4" y="264.6" width="2.9" height="0.8" opacity="0.45"/><rect x="256.7" y="257.6" width="2.3" height="0.8" opacity="0.60"/><rect x="235.0" y="295.2" width="3.0" height="0.8" opacity="0.45"/><rect x="187.8" y="278.6" width="3.8" height="0.8" opacity="0.80"/></g>
<path d="M158.0 217.3C165.5 188.4 184.5 188.4 192.0 217.3" stroke="#c247ff" stroke-width="1.00" fill="none"/>
<path d="M161.2 217.3C167.5 202.1 182.5 202.1 188.8 217.3" stroke="#c247ff" stroke-width="1.00" fill="none"/>
<path d="M232.0 217.3C239.5 189.2 258.5 189.2 266.0 217.3" stroke="#c247ff" stroke-width="1.00" fill="none"/>
<path d="M235.2 217.3C241.5 202.9 256.5 202.9 262.8 217.3" stroke="#c247ff" stroke-width="1.00" fill="none"/>
<path d="M305.6 217.3C313.1 188.0 332.1 188.0 339.6 217.3" stroke="#c247ff" stroke-width="1.00" fill="none"/>
<path d="M308.8 217.3C315.1 201.7 330.1 201.7 336.4 217.3" stroke="#c247ff" stroke-width="1.00" fill="none"/>
<path d="M382.9 217.3C390.4 187.0 409.4 187.0 416.9 217.3" stroke="#c247ff" stroke-width="1.00" fill="none"/>
<path d="M386.1 217.3C392.4 200.8 407.4 200.8 413.7 217.3" stroke="#c247ff" stroke-width="1.00" fill="none"/>
<rect x="103.2" y="217.1" width="22.6" height="31.3" stroke="none" stroke-width="0.00" fill="#fff"/>
<rect x="420.2" y="217.1" width="23.9" height="31.3" stroke="none" stroke-width="0.00" fill="#fff"/>
<rect x="125.8" y="217.4" width="294.4" height="29.6" stroke="none" stroke-width="0.00" fill="#12f4f1"/>
<rect x="10.2" y="228.7" width="24.2" height="8.6" stroke="#3636ff" stroke-width="1.00" fill="#fff"/>
<rect x="34.4" y="228.7" width="91.4" height="8.6" stroke="none" stroke-width="0.00" fill="#12f4f1"/>
<rect x="420.2" y="228.7" width="92.4" height="8.6" stroke="none" stroke-width="0.00" fill="#fff"/>
<path d="M34.4 228.7H512.6M34.4 237.3H512.6" stroke="#3636ff" stroke-width="1.00" fill="none"/>
<path d="M512.6 227.0L512.6 239.4" stroke="#3636ff" stroke-width="0.90" fill="none"/>
<clipPath id="chclip"><rect x="125" y="164" width="297" height="136"/></clipPath>
<g clip-path="url(#chclip)">
<path d="M154.2 243.6C152.5 261 144 269.4 138.2 269.4C133 269.4 128 267 124 262.6" stroke="#c247ff" stroke-width="1.00" fill="none"/>
<path d="M151.7 243.6C150 253.5 142 258.3 135.5 258.3C131 258.3 127.5 257.2 124 255" stroke="#c247ff" stroke-width="1.00" fill="none"/>
<path d="M195.7 243.6C202.8 272.1 221.8 272.1 228.9 243.6" stroke="#c247ff" stroke-width="1.00" fill="none"/>
<path d="M199.1 243.6C204.8 259.2 219.8 259.2 225.5 243.6" stroke="#c247ff" stroke-width="1.00" fill="none"/>
<path d="M270.6 243.6C277.7 271.5 296.7 271.5 303.8 243.6" stroke="#c247ff" stroke-width="1.00" fill="none"/>
<path d="M274.0 243.6C279.7 258.9 294.7 258.9 300.4 243.6" stroke="#c247ff" stroke-width="1.00" fill="none"/>
<path d="M344.4 243.6C351.5 270.8 370.5 270.8 377.6 243.6" stroke="#c247ff" stroke-width="1.00" fill="none"/>
<path d="M347.8 243.6C353.5 257.7 368.5 257.7 374.2 243.6" stroke="#c247ff" stroke-width="1.00" fill="none"/>
</g>
<path d="M102.6 217.1H444.6M102.6 248.4H444.6" stroke="#c247ff" stroke-width="1.00" fill="none"/>
<path d="M209.7 189.5V275M213.6 189.5V275" stroke="#3636ff" stroke-width="1.00" fill="none"/>
<path d="M319.9 188V275M323.6 188V275" stroke="#3636ff" stroke-width="1.00" fill="none"/>
<path d="M155.0 231.3L191.0 183.0L213.2 176.5L224.8 183.5L222.1 187.9L201.4 189.4L157.8 231.3" stroke="#3636ff" stroke-width="1.00" fill="none"/>
<path d="M377.0 230.2L344.0 183.9L319.6 175.1L308.5 181.0L310.7 187.5L332.2 187.9L374.5 230.2" stroke="#3636ff" stroke-width="1.00" fill="none"/>
<path d="M266.9 231.7L232.2 280.5L209.2 286.4L198.1 281.2L199.6 275.3L221.8 274.6L264.6 231.7" stroke="#3636ff" stroke-width="1.00" fill="none"/>
<path d="M266.9 231.7L303.2 281.1L324.6 286.9L335.6 280.0L333.5 274.9L314.2 274.9L269.4 231.7" stroke="#3636ff" stroke-width="1.00" fill="none"/>
<path d="M272 215Q345 245 421 216" stroke="#fff" stroke-width="2.00" fill="none" opacity="0.3"/>
<path d="M296 228Q350 250 404 229" stroke="#fff" stroke-width="1.50" fill="none" opacity="0.22"/>
</g>
<g id="watermark" opacity="0.8" fill="#fff" fill-opacity="0.7" stroke="#b8b8b8" stroke-width="0.8" font-family="'Liberation Sans','Noto Sans CJK SC',sans-serif" font-size="40"><title>宝靖干燥</title>
<text x="225.5 279.5 336 405" y="299">宝靖干燥</text>
</g>
<g id="cond-frame">
<path d="M491.8 181.2V55.7H524.4M553.6 55.7H588.4V180.4" stroke="#3636ff" stroke-width="1.00" fill="none"/>
<path d="M491.8 125.5H524.4M554 125.5H588.4" stroke="#3636ff" stroke-width="1.00" fill="none"/>
<path d="M516.7 125.5L491.8 157.4M566 125.5L588.4 162.6" stroke="#3636ff" stroke-width="1.00" fill="none"/>
<path d="M488.7 181.3H495.3M585.3 180.4H591.2" stroke="#3636ff" stroke-width="1.20" fill="none"/>
</g>
<g id="condenser">
<path d="M524.4 28.7V11.5Q524.6 9.6 531 6.2Q539 2.6 547 6.2Q553.4 9.6 553.6 11.5V28.7" stroke="#c247ff" stroke-width="1.00" fill="#fff"/>
<rect x="524.4" y="28.7" width="29.2" height="56.9" stroke="#c247ff" stroke-width="1.00" fill="#fff"/>
<rect x="524.9" y="34.8" width="28.2" height="50.8" stroke="none" stroke-width="0.00" fill="#2e2e62"/>
<rect x="524.9" y="29.4" width="28.2" height="5.4" stroke="none" stroke-width="0.00" fill="#6464ea"/>
<path d="M524.4 29.1L553.6 29.1" stroke="#3636ff" stroke-width="1.20" fill="none"/>
<path d="M527.2 34.8V85.6M531.3 34.8V85.6M535.3 34.8V85.6M539.1 34.8V85.6M543.1 34.8V85.6M546.9 34.8V85.6M550.9 34.8V85.6" stroke="#77755f" stroke-width="0.90" fill="none"/>
<path d="M527.2 30V34.8M531.3 30V34.8M535.3 30V34.8M539.1 30V34.8M543.1 30V34.8M546.9 30V34.8M550.9 30V34.8" stroke="#fff" stroke-width="1.70" fill="none"/>
<path d="M524.4 85.6A14.6 12.7 0 0 0 536.9 98.1V111.1M553.6 85.6A14.6 12.7 0 0 1 543.1 98.1V111.1" stroke="#c247ff" stroke-width="1.00" fill="none"/>
<path d="M536.9 111.1Q528 113.5 524.4 119V151.2Q526 159.5 539.2 161.6Q552.5 159.5 554.1 151.2V119Q550.5 113.5 543.1 111.1" stroke="#c247ff" stroke-width="1.00" fill="#fff"/>
<circle cx="539.2" cy="132.7" r="3.7" stroke="#3636ff" stroke-width="1.00" fill="none"/>
<path d="M539.6 141.5q-1.7 3.2 0 4.2q1.7-1 0-4.2z" stroke="#b8b8c0" stroke-width="0.60" fill="#d6d6dc"/>
<path d="M531.0 146.0q-1.7 3.2 0 4.2q1.7-1 0-4.2z" stroke="#b8b8c0" stroke-width="0.60" fill="#d6d6dc"/>
<path d="M548.3 151.0q-1.7 3.2 0 4.2q1.7-1 0-4.2z" stroke="#b8b8c0" stroke-width="0.60" fill="#d6d6dc"/>
<path d="M538.5 161.6V173H543.1V161.6" stroke="#c247ff" stroke-width="1.00" fill="none"/>
<path d="M543.1 166.7H550M543.1 168.8H550M550 163.6V170.9" stroke="#c247ff" stroke-width="1.00" fill="none"/>
<path d="M554.1 138.1H601.6M554.1 142.6H601.6" stroke="#c247ff" stroke-width="1.00" fill="none"/>
</g>
<g id="vacuum-pump">
<ellipse cx="609.3" cy="140.1" rx="7.8" ry="7.9" stroke="#c247ff" stroke-width="1" fill="#fff"/>
<path d="M606.5 132.8V147.4M611.8 132.6V147.6" stroke="#c247ff" stroke-width="1.00" fill="none"/>
<path d="M617 137.2H624.4M617 141.4H624.4" stroke="#c247ff" stroke-width="1.00" fill="none"/>
<rect x="624.4" y="131.8" width="4.0" height="12.9" stroke="#c247ff" stroke-width="1.00" fill="none"/>
<path d="M624.4 135H628.4M624.4 138.2H628.4M624.4 141.4H628.4" stroke="#c247ff" stroke-width="0.80" fill="none"/>
<path d="M628.4 136.5H633.7M628.4 141.5H633.7" stroke="#c247ff" stroke-width="1.00" fill="none"/>
<rect x="633.7" y="129.1" width="5.8" height="17.5" stroke="#c247ff" stroke-width="1.00" fill="none"/>
<path d="M639.5 134H641.9M639.5 142H641.9" stroke="#c247ff" stroke-width="1.00" fill="none"/>
<rect x="641.9" y="130.4" width="29.1" height="14.7" stroke="#c247ff" stroke-width="1.00" fill="none"/>
<path d="M645.6 130.4V145.1M666 130.4V145.1" stroke="#c247ff" stroke-width="1.00" fill="none"/>
<path d="M645.6 133.3H666M645.6 136.2H666M645.6 139.1H666M645.6 142H666" stroke="#c247ff" stroke-width="0.90" fill="none"/>
<path d="M646.6 145.1V149.4M648.8 145.1V149.4M663.8 145.1V149.4M666 145.1V149.4" stroke="#c247ff" stroke-width="0.90" fill="none"/>
<rect x="600.5" y="149.4" width="70.5" height="9.3" stroke="#c247ff" stroke-width="1.00" fill="none"/>
</g>
<g id="labels" font-family="'Liberation Sans','Noto Sans CJK SC',sans-serif" font-size="9.5" fill="#0a0a0a" letter-spacing="-0.35">
<text x="57.87" y="64.99">截止阀</text>
<text x="35.77" y="140.99">电磁阀</text>
<text x="102.57" y="148.29">进蒸气</text>
<text x="190.17" y="148.29">进蒸气</text>
<text x="322.77" y="148.89">进蒸气</text>
<text x="411.77" y="148.09">进蒸气</text>
<text x="12.47" y="208.29">进蒸气</text>
<text x="10.97" y="267.39" letter-spacing="-0.55">旋转接头</text>
<text x="69.77" y="273.49">出蒸气</text>
<text x="186.37" y="319.49">出蒸气</text>
<text x="328.87" y="319.49">出蒸气</text>
<text x="226.47" y="331.59">出料口</text>
<text x="258.27" y="393.69">出料桶</text>
<text x="555.77" y="69.89">冷凝器</text>
<text x="631.27" y="124.79">真空泵</text>
<text x="545.17" y="233.99">减速电机</text>
<text x="363.17" y="366.49">第一步：加料（手工或者真空加料）</text>
<text x="363.17" y="384.09">第二步：加热</text>
<text x="362.17" y="399.19">第三步：开搅拌机同时启动抽真空，干燥物料中</text>
<text x="535.77" y="366.89">第四步：物料干燥完毕，出料</text>
<text x="42.60" y="402.67" font-size="17.7" font-weight="bold" fill="#0c0c0c" letter-spacing="-0.15">真空耙式干燥机控制箱</text>
</g>
<g id="legend-bullets" font-family="Liberation Serif, serif" font-weight="bold" font-size="8.8" text-anchor="middle">
<circle cx="350.3" cy="363.6" r="6.7" stroke="none" stroke-width="0.00" fill="#14e6ef"/>
<text x="350.3" y="366.5" fill="#000">1</text>
<circle cx="350.3" cy="379.7" r="6.7" stroke="none" stroke-width="0.00" fill="#f214e6"/>
<text x="350.3" y="382.6" fill="#fff">2</text>
<circle cx="350.3" cy="395.6" r="6.7" stroke="none" stroke-width="0.00" fill="#135ff0"/>
<text x="350.3" y="398.5" fill="#eef">3</text>
<circle cx="522.4" cy="363.0" r="6.7" stroke="none" stroke-width="0.00" fill="#f8c61a"/>
<text x="522.4" y="365.9" fill="#000">4</text>
</g></svg>
</body>
</html>
